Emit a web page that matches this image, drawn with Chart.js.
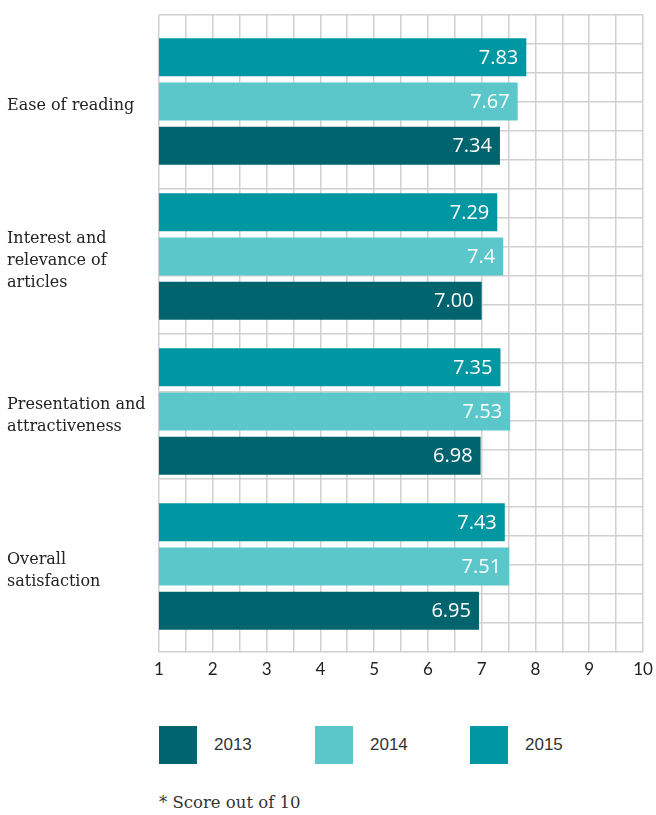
<!DOCTYPE html>
<html>
<head>
<meta charset="utf-8">
<script src="https://cdn.jsdelivr.net/npm/chart.js@4/dist/chart.umd.min.js"></script>
<style>
  html, body { margin: 0; padding: 0; background: #fff; }
  #wrap { position: relative; width: 656px; height: 815px; }
  #chartBox { position: absolute; left: 0; top: 0; width: 656px; height: 690px; }
  .leg { position: absolute; top: 726px; height: 38px; display: flex; align-items: center; font-family: "Liberation Sans", Arial, sans-serif; font-size: 17px; color: #333; }
  .leg span.sw { display: inline-block; width: 38px; height: 38px; margin-right: 17px; }
  #note { position: absolute; left: 159px; top: 793px; font-family: "DejaVu Serif", serif; font-size: 16.5px; color: #333; }
</style>
</head>
<body>
<div id="wrap">
  <div id="chartBox"><canvas id="c" width="656" height="690"></canvas></div>
  <div id="legend"></div>
  <div id="note">* Score out of 10</div>
</div>
<script>
// ---- data ----
const categories = [
  ['Ease of reading'],
  ['Interest and', 'relevance of', 'articles'],
  ['Presentation and', 'attractiveness'],
  ['Overall', 'satisfaction']
];
const years = ['2013', '2014', '2015'];
const s2013 = [7.34, 7.00, 6.98, 6.95];
const s2014 = [7.67, 7.4, 7.53, 7.51];
const s2015 = [7.83, 7.29, 7.35, 7.43];
const lbl2013 = ['7.34', '7.00', '6.98', '6.95'];
const lbl2014 = ['7.67', '7.4', '7.53', '7.51'];
const lbl2015 = ['7.83', '7.29', '7.35', '7.43'];
const xTicks = [1, 2, 3, 4, 5, 6, 7, 8, 9, 10];

const colors = { '2013': '#00646F', '2014': '#5CC7CB', '2015': '#0097A3' };
const seriesByYear = { '2013': s2013, '2014': s2014, '2015': s2015 };
const labelsByYear = { '2013': lbl2013, '2014': lbl2014, '2015': lbl2015 };

// bars drawn top-to-bottom: 2015, 2014, 2013
const drawOrder = ['2015', '2014', '2013'];
const datasets = drawOrder.map(y => ({
  label: y,
  data: seriesByYear[y].map((v, i) => ({ x: v, y: i })),
  valueLabels: labelsByYear[y],
  backgroundColor: colors[y],
  borderWidth: 0,
  categoryPercentage: 0.8575,
  barPercentage: 0.858,
  yAxisID: 'y'
}));

const valueLabelPlugin = {
  id: 'valueLabels',
  afterDatasetsDraw(chart) {
    const ctx = chart.ctx;
    ctx.save();
    ctx.font = '400 20px "Open Sans", sans-serif';
    ctx.fillStyle = '#ffffff';
    ctx.textAlign = 'right';
    ctx.textBaseline = 'middle';
    chart.data.datasets.forEach((ds, di) => {
      const meta = chart.getDatasetMeta(di);
      meta.data.forEach((bar, i) => {
        ctx.fillText(ds.valueLabels[i], bar.x - 8, bar.y + 1);
      });
    });
    ctx.restore();
  }
};

const noPadV = s => { s.paddingTop = 0; s.paddingBottom = 0; };
const gridColor = '#d0d0d0';

new Chart(document.getElementById('c'), {
  type: 'bar',
  data: { datasets },
  plugins: [valueLabelPlugin],
  options: {
    indexAxis: 'y',
    responsive: false,
    animation: false,
    layout: { padding: { top: 15, left: 7, right: 13, bottom: 0 } },
    plugins: { legend: { display: false }, tooltip: { enabled: false } },
    scales: {
      x: {
        type: 'linear',
        min: 1, max: 10,
        ticks: {
          stepSize: 0.5,
          padding: 7,
          color: '#222',
          font: { family: 'Lato, "Open Sans", sans-serif', size: 17 },
          callback: v => (xTicks.includes(v) ? String(v) : '')
        },
        grid: { color: gridColor, lineWidth: 1.5, drawTicks: false },
        border: { display: false },
        afterFit: s => { s.height = 38; s.paddingLeft = 0; s.paddingRight = 0; }
      },
      y: {
        type: 'linear',
        position: 'left',
        reverse: true,
        offset: false,
        min: -0.558, max: 3.552,
        afterBuildTicks: s => { s.ticks = categories.map((c, i) => ({ value: i })); },
        ticks: {
          autoSkip: false,
          crossAlign: 'far',
          padding: 0,
          labelOffset: 4,
          color: '#222',
          font: { family: '"DejaVu Serif", serif', size: 16, lineHeight: 1.38 },
          callback: v => categories[v]
        },
        grid: { display: false, drawTicks: false, offset: false },
        border: { display: false },
        afterFit: s => { s.width = 152; noPadV(s); }
      },
      y2: {
        type: 'linear',
        position: 'left',
        min: 0, max: 22,
        offset: false,
        ticks: { display: false, stepSize: 1 },
        grid: { color: gridColor, lineWidth: 1.5, drawTicks: false, offset: false },
        border: { display: false },
        afterFit: s => { s.width = 0; noPadV(s); }
      }
    }
  }
});

// HTML legend
const legendLefts = [159, 315, 470];
const legendEl = document.getElementById('legend');
years.forEach((y, i) => {
  const d = document.createElement('div');
  d.className = 'leg';
  d.style.left = legendLefts[i] + 'px';
  d.innerHTML = '<span class="sw" style="background:' + colors[y] + '"></span>' + y;
  legendEl.appendChild(d);
});
</script>
</body>
</html>
